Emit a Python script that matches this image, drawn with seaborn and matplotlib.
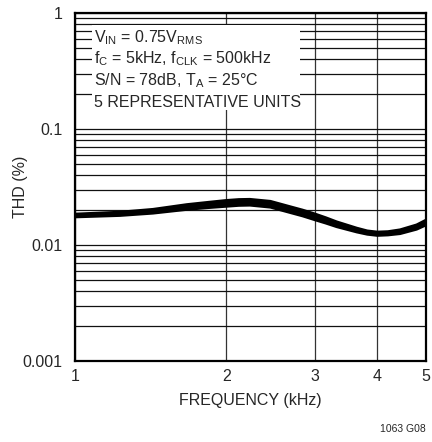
import pandas as pd
import matplotlib
matplotlib.use("Agg")
import matplotlib.pyplot as plt
import matplotlib.ticker as mticker
from matplotlib.patches import Rectangle
import seaborn as sns

# frequency points (kHz)
freq = [1.0, 1.23, 1.43, 1.67, 1.85, 2.0, 2.12, 2.23, 2.45, 2.68, 2.84,
        3.0, 3.16, 3.32, 3.64, 3.82, 4.0, 4.2, 4.44, 4.79, 5.0]

# THD (%) for the 5 representative units
unit_1 = [0.01850, 0.01923, 0.02033, 0.02234, 0.02342, 0.02425, 0.02470, 0.02480, 0.02384, 0.02144, 0.02003,
          0.01859, 0.01720, 0.01586, 0.01400, 0.01325, 0.01295, 0.01306, 0.01354, 0.01493, 0.01641]
unit_2 = [0.01823, 0.01891, 0.01994, 0.02181, 0.02281, 0.02357, 0.02400, 0.02410, 0.02316, 0.02084, 0.01947,
          0.01807, 0.01675, 0.01548, 0.01373, 0.01302, 0.01273, 0.01284, 0.01328, 0.01461, 0.01602]
unit_3 = [0.01796, 0.01858, 0.01955, 0.02128, 0.02220, 0.02288, 0.02330, 0.02340, 0.02249, 0.02023, 0.01890,
          0.01754, 0.01630, 0.01510, 0.01346, 0.01280, 0.01251, 0.01262, 0.01302, 0.01429, 0.01563]
unit_4 = [0.01772, 0.01829, 0.01920, 0.02080, 0.02165, 0.02226, 0.02267, 0.02277, 0.02188, 0.01968, 0.01839,
          0.01707, 0.01590, 0.01476, 0.01322, 0.01260, 0.01231, 0.01242, 0.01279, 0.01400, 0.01528]
unit_5 = [0.01742, 0.01793, 0.01877, 0.02022, 0.02098, 0.02151, 0.02190, 0.02200, 0.02114, 0.01902, 0.01777,
          0.01649, 0.01540, 0.01435, 0.01292, 0.01235, 0.01207, 0.01218, 0.01250, 0.01365, 0.01485]

x_ticks = [1, 2, 3, 4, 5]
y_ticks = [0.001, 0.01, 0.1, 1]
y_tick_labels = ["0.001", "0.01", "0.1", "1"]

conditions = [
    r"V$_\mathregular{IN}$ = 0.75V$_\mathregular{RMS}$",
    r"f$_\mathregular{C}$ = 5kHz, f$_\mathregular{CLK}$ = 500kHz",
    r"S/N = 78dB, T$_\mathregular{A}$ = 25°C",
    "5 REPRESENTATIVE UNITS",
]

# long-form table for seaborn
units = [unit_1, unit_2, unit_3, unit_4, unit_5]
df = pd.DataFrame({
    "freq": freq * len(units),
    "thd": [v for u in units for v in u],
    "unit": [i for i in range(len(units)) for _ in freq],
})

sns.set_style("white")
plt.rcParams["font.family"] = ["Liberation Sans", "DejaVu Sans"]

fig = plt.figure(figsize=(4.32, 4.42), dpi=100)
ax = fig.add_axes([0.1736, 0.1833, 0.8125, 0.7873])

sns.lineplot(data=df, x="freq", y="thd", hue="unit", units="unit", estimator=None,
             palette=["black"] * len(units), linewidth=1.9, legend=False, ax=ax, zorder=3)

ax.set_xscale("log")
ax.set_yscale("log")
ax.set_xlim(1, 5)
ax.set_ylim(0.001, 1)

ax.xaxis.set_major_locator(mticker.FixedLocator(x_ticks))
ax.xaxis.set_major_formatter(mticker.FixedFormatter([str(t) for t in x_ticks]))
ax.xaxis.set_minor_locator(mticker.NullLocator())
ax.yaxis.set_major_locator(mticker.FixedLocator(y_ticks))
ax.yaxis.set_major_formatter(mticker.FixedFormatter(y_tick_labels))
ax.yaxis.set_minor_locator(mticker.LogLocator(base=10, subs=range(2, 10)))
ax.yaxis.set_minor_formatter(mticker.NullFormatter())

ax.set_axisbelow(True)
ax.grid(True, which="both", axis="y", color="#111111", linewidth=0.9)
ax.grid(True, which="major", axis="x", color="#333333", linewidth=0.9)
ax.tick_params(axis="both", which="both", length=0, labelsize=11.5)
ax.tick_params(axis="x", pad=6)
ax.tick_params(axis="y", pad=9)

for s in ax.spines.values():
    s.set_visible(True)
    s.set_color("black")
    s.set_linewidth(1.6)

ax.set_xlabel("FREQUENCY (kHz)", fontsize=11.5, labelpad=6)
ax.set_ylabel("THD (%)", fontsize=11.5)
ax.yaxis.set_label_coords(-0.134, 0.5)

# white box behind the test conditions
ax.add_patch(Rectangle((0.048, 0.721), 0.593, 0.245, transform=ax.transAxes,
                       facecolor="white", edgecolor="none", zorder=2))
for i, line in enumerate(conditions):
    ax.text(0.054, 0.917 - i * 0.0623, line, transform=ax.transAxes, fontsize=11.5,
            va="baseline", ha="left", zorder=4)

fig.text(0.986, 0.022, "1063 G08", fontsize=7.5, ha="right", va="baseline")

fig.savefig("out.png", dpi=100)
